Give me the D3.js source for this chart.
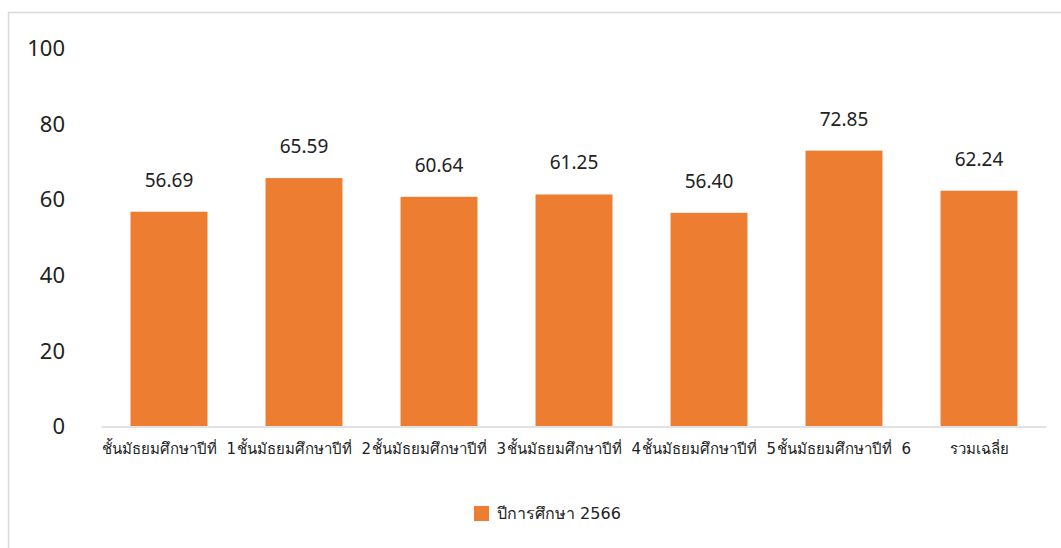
<!DOCTYPE html>
<html><head><meta charset="utf-8">
<script src="https://cdn.jsdelivr.net/npm/d3@7"></script>
<style>body{margin:0;background:#fff}svg{display:block}text{font-family:"Noto Sans","DejaVu Sans",sans-serif}</style>
</head><body>
<script>
const categories = ["ชั้นมัธยมศึกษาปีที่  1","ชั้นมัธยมศึกษาปีที่  2","ชั้นมัธยมศึกษาปีที่  3","ชั้นมัธยมศึกษาปีที่  4","ชั้นมัธยมศึกษาปีที่  5","ชั้นมัธยมศึกษาปีที่  6","รวมเฉลี่ย"];
const values = [56.69, 65.59, 60.64, 61.25, 56.40, 72.85, 62.24];
const yTicks = [0, 20, 40, 60, 80, 100];
const seriesName = "ปีการศึกษา 2566";

const W = 1061, H = 548;
const svg = d3.select("body").append("svg").attr("width", W).attr("height", H);
svg.append("path").attr("d", "M8.5," + H + "V12.5H" + W).attr("fill", "none").attr("stroke", "#d9d9d9").attr("stroke-width", 1.5);

const x = d3.scaleBand().domain(categories).range([101.5, 1046.5]).paddingInner(0.43).paddingOuter(0.215);
const y = d3.scaleLinear().domain([0, 100]).range([426, 48]);

const yAxis = svg.append("g").attr("transform", "translate(65,0)")
  .call(d3.axisLeft(y).tickValues(yTicks).tickSize(0).tickPadding(0));
yAxis.select(".domain").remove();
yAxis.selectAll("text").attr("font-size", 22).attr("fill", "#222").attr("dy", "0.35em")
  .style("font-family", '"Noto Sans",sans-serif');

svg.selectAll("rect.bar").data(values).enter().append("rect").attr("class", "bar")
  .attr("x", (d, i) => x(categories[i])).attr("width", x.bandwidth())
  .attr("y", d => y(d)).attr("height", d => y(0) - y(d)).attr("fill", "#ed7d31");

svg.append("line").attr("x1", 101.5).attr("x2", 1046.5).attr("y1", 427).attr("y2", 427)
  .attr("stroke", "#d9d9d9").attr("stroke-width", 1.5);

svg.selectAll("text.val").data(values).enter().append("text").attr("class", "val")
  .attr("x", (d, i) => x(categories[i]) + x.bandwidth() / 2).attr("y", d => y(d) - 25)
  .attr("text-anchor", "middle").attr("font-size", 19).attr("fill", "#222")
  .style("font-family", '"Noto Sans",sans-serif')
  .text(d => d.toFixed(2));

const xAxis = svg.append("g").attr("transform", "translate(0,427)")
  .call(d3.axisBottom(x).tickSize(0).tickPadding(0));
xAxis.select(".domain").remove();
xAxis.selectAll("text").attr("font-size", 15).attr("fill", "#222").attr("dy", "0").attr("y", 27)
  .style("white-space", "pre").style("font-family", 'Tahoma,"DejaVu Sans",sans-serif');

const lg = svg.append("g");
lg.append("rect").attr("x", 474).attr("y", 506).attr("width", 15).attr("height", 15).attr("fill", "#ed7d31");
lg.append("text").attr("x", 497).attr("y", 519).attr("font-size", 16).attr("fill", "#222").text(seriesName)
  .style("font-family", 'Tahoma,"DejaVu Sans",sans-serif');
</script>
</body></html>
